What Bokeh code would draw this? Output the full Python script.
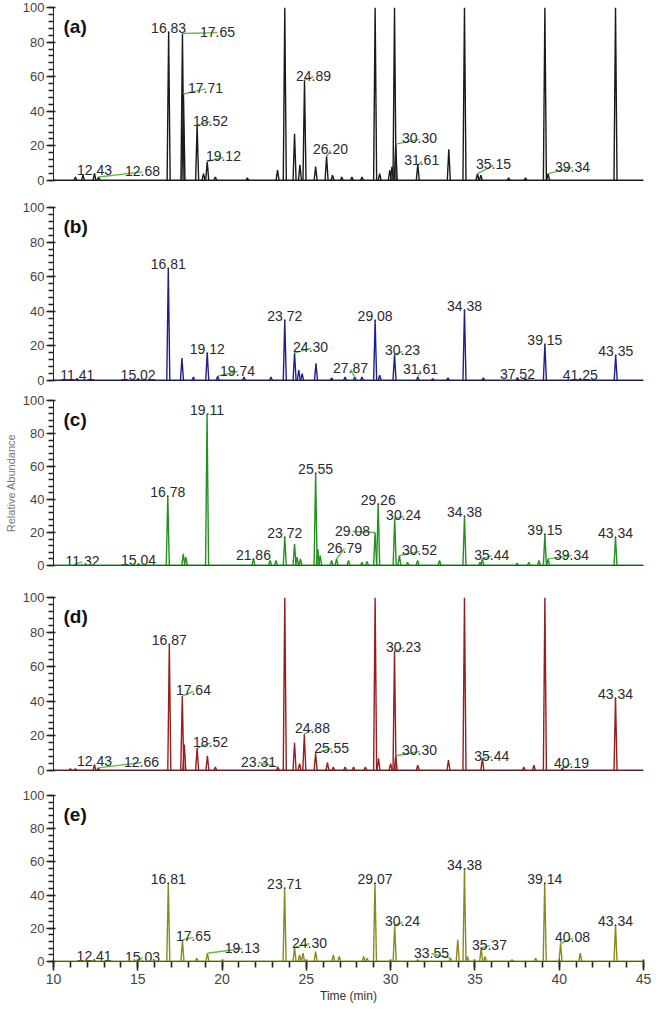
from bokeh.plotting import figure
from bokeh.layouts import column
from bokeh.models import Span, Label, FixedTicker, ColumnDataSource
from bokeh.core.properties import value
from bokeh.embed import file_html
from bokeh.resources import INLINE

# ---- peak tables: retention time (min) and relative abundance (%) ----
times_a = [11.30, 11.75, 12.43, 12.68, 16.83, 17.65, 17.71, 18.52, 18.90, 19.12, 19.60, 21.50,
           23.29, 23.72, 24.30, 24.62, 24.89, 25.55, 26.20, 26.55, 27.10, 27.70, 28.30, 29.08,
           29.35, 29.95, 30.08, 30.23, 30.30, 31.61, 33.45, 34.38, 35.15, 35.35, 37.00, 38.00,
           39.15, 39.34, 43.34]
abund_a = [2, 3, 4, 2, 86, 85, 50, 32, 4, 11, 2, 1.5,
           6, 100, 27, 9, 58, 8, 14, 3, 2, 2, 2, 100,
           4, 6, 8, 100, 21, 9, 18, 100, 4, 3, 1.5, 1.5,
           100, 4, 100]

times_b = [11.41, 15.02, 16.81, 17.62, 18.30, 19.12, 19.74, 21.30, 22.90, 23.72, 24.30, 24.55,
           24.75, 25.57, 26.50, 27.30, 27.87, 28.30, 29.08, 29.35, 30.23, 31.61, 32.50, 33.40,
           34.38, 35.50, 37.52, 38.00, 39.15, 41.25, 43.35]
abund_b = [1, 1, 65, 13, 2, 16, 2.5, 2, 2, 35, 16, 6,
           4, 10, 1.5, 2, 2, 2, 35, 3, 15, 2, 1, 1.5,
           41, 1.5, 1.5, 1, 21, 1, 14.5]

times_c = [11.32, 15.04, 16.78, 17.70, 17.85, 19.11, 21.86, 22.85, 23.20, 23.72, 24.30, 24.45,
           24.65, 25.55, 25.68, 25.82, 26.50, 26.79, 27.50, 28.30, 28.60, 29.08, 29.26, 30.24,
           30.52, 31.00, 31.60, 32.90, 34.38, 35.30, 35.44, 37.50, 38.20, 38.80, 39.15, 39.34,
           43.34]
abund_c = [1, 1, 42, 7, 5, 92, 4, 3, 3, 17, 13, 5,
           4, 56, 10, 6, 3, 4, 3, 2, 2.5, 20, 37.5, 28.5,
           6, 2, 3, 3, 30, 2, 4, 1.5, 2, 3, 19, 4,
           17]

times_d = [11.00, 11.30, 12.43, 12.66, 16.87, 17.64, 17.76, 18.52, 19.13, 19.60, 23.31, 23.72,
           24.30, 24.60, 24.88, 25.55, 26.25, 26.60, 27.30, 27.80, 28.50, 29.08, 29.28, 30.00,
           30.23, 30.30, 31.61, 33.43, 34.38, 35.44, 37.90, 38.50, 39.15, 40.19, 43.34]
abund_d = [1, 1, 3, 1.5, 73, 43, 15, 13, 8.5, 2, 2, 100,
           16, 4, 21, 10, 4.5, 2, 2, 2, 2, 100, 7, 4,
           69, 8.5, 3, 6, 100, 7, 2, 3, 100, 1.5, 42]

times_e = [12.41, 15.03, 16.81, 17.65, 18.50, 19.13, 23.71, 24.30, 24.60, 24.80, 25.55, 26.60,
           26.95, 28.40, 28.60, 29.07, 30.24, 31.60, 33.55, 33.98, 34.38, 34.55, 35.37, 35.60,
           37.20, 38.60, 39.14, 40.08, 41.25, 43.34]
abund_e = [1, 0.5, 47.5, 13, 2, 5, 44, 8.5, 4, 5, 6, 4,
           3, 3, 2, 47.5, 22, 1, 2, 13, 56, 3, 8, 3,
           1, 2, 47.5, 11, 5, 22]

# ---- annotated peaks ----
# labels printed straight above the apex
top_a = [12.43, 16.83]
top_b = [11.41, 15.02, 16.81, 19.12, 23.72, 29.08, 34.38, 37.52, 39.15, 41.25, 43.35]
top_c = [15.04, 16.78, 19.11, 21.86, 23.72, 25.55, 29.26, 34.38, 39.15, 43.34]
top_d = [12.43, 16.87, 43.34]
top_e = [12.41, 16.81, 23.71, 29.07, 34.38, 39.14, 43.34]

# labels moved aside with a leader: peak time -> where the label sits (time, abundance)
side_a = {12.68: (15.28, 5.0), 17.65: (19.73, 85.5), 17.71: (19.02, 53.0), 18.52: (19.31, 34.0),
          19.12: (20.08, 13.4), 24.89: (25.42, 60.0), 26.20: (26.43, 17.4), 30.30: (31.71, 23.8),
          31.61: (31.84, 11.0), 35.15: (36.10, 8.7), 39.34: (40.79, 7.5)}
side_b = {19.74: (20.92, 5.2), 24.30: (25.25, 18.5), 27.87: (27.62, 6.4), 30.23: (30.70, 16.8),
          31.61: (31.77, 5.8)}
side_c = {11.32: (11.72, 2.2), 26.79: (27.26, 10.3), 29.08: (27.74, 20.6), 30.24: (30.77, 29.7),
          30.52: (31.71, 8.5), 35.44: (36.00, 6.0), 39.34: (40.73, 6.0)}
side_d = {12.66: (15.22, 4.6), 17.64: (18.30, 45.7), 18.52: (19.31, 16.0), 23.31: (22.16, 4.6),
          24.88: (25.36, 23.7), 25.55: (26.50, 12.7), 30.23: (30.76, 71.0), 30.30: (31.71, 11.0),
          35.44: (36.00, 8.0), 40.19: (40.73, 4.0)}
side_e = {15.03: (15.28, 2.4), 17.65: (18.30, 14.5), 19.13: (21.20, 7.8), 24.30: (25.19, 10.8),
          30.24: (30.70, 23.5), 33.55: (32.42, 4.8), 35.37: (35.86, 9.6), 40.08: (40.79, 13.9)}

# axis ticks
y_ticks = [0, 20, 40, 60, 80, 100]
y_minor = list(range(0, 101, 4))
x_ticks = [10, 15, 20, 25, 30, 35, 40, 45]
x_minor = list(range(10, 46))

FONT = "Liberation Sans"
HALF_W = 0.09          # half width of a drawn peak at its base, in minutes
LEADER = "#5cbf4a"
INK = "#222222"


def panel(tag, times, abund, tops, sides, color, height, b_top, b_bottom,
          bottom_axis=False, ylabel=None):
    p = figure(width=661, height=height, x_range=(10, 45), y_range=(0, 100),
               output_backend="svg", toolbar_location=None,
               min_border_left=53, min_border_right=18,
               min_border_top=b_top, min_border_bottom=b_bottom)
    p.xgrid.grid_line_color = None
    p.ygrid.grid_line_color = None
    p.outline_line_color = None

    # y axis: numbered every 20 %, small ticks every 4 %
    ya = p.yaxis[0]
    ya.ticker = FixedTicker(ticks=y_ticks, minor_ticks=y_minor)
    ya.axis_line_color = INK
    ya.major_tick_line_color = INK
    ya.minor_tick_line_color = INK
    ya.major_tick_line_width = 1.5
    ya.minor_tick_line_width = 1.5
    ya.major_tick_out = 7
    ya.minor_tick_out = 5
    ya.major_label_text_font = FONT
    ya.major_label_text_font_size = "13px"
    ya.major_label_standoff = 2
    if ylabel:
        ya.axis_label = ylabel
        ya.axis_label_text_font = FONT
        ya.axis_label_text_font_size = "11px"
        ya.axis_label_text_font_style = "normal"
        ya.axis_label_text_color = "#777777"
        ya.axis_label_standoff = 3

    # x axis: only the bottom panel carries ticks and numbers
    xa = p.xaxis[0]
    xa.axis_line_color = INK
    if bottom_axis:
        xa.ticker = FixedTicker(ticks=x_ticks, minor_ticks=x_minor)
        xa.major_tick_line_color = INK
        xa.minor_tick_line_color = INK
        xa.major_tick_line_width = 1.6
        xa.minor_tick_line_width = 1.6
        xa.major_tick_out = 9
        xa.minor_tick_out = 6
        xa.major_label_text_font = FONT
        xa.major_label_text_font_size = "14px"
        xa.major_label_standoff = 3
        xa.axis_label = "Time (min)"
        xa.axis_label_text_font = FONT
        xa.axis_label_text_font_size = "12px"
        xa.axis_label_text_font_style = "normal"
        xa.axis_label_text_color = "#333333"
        xa.axis_label_standoff = 2
    else:
        xa.ticker = FixedTicker(ticks=[])
        xa.major_tick_out = 0
        xa.minor_tick_out = 0
        xa.major_label_standoff = 0

    # baseline and peaks
    p.add_layout(Span(location=0, dimension="width", line_color=color, line_width=1.8))
    xs = [[t - HALF_W, t, t + HALF_W] for t in times]
    ys = [[0, h, 0] for h in abund]
    p.multi_line(xs=xs, ys=ys, line_color=color, line_width=1.4)

    peak_h = dict(zip(times, abund))

    # labels above the apex
    src_top = ColumnDataSource(dict(x=tops, y=[peak_h[t] for t in tops],
                                    txt=["%.2f" % t for t in tops]))
    p.text(x="x", y="y", text="txt", source=src_top, text_font=value(FONT),
           text_font_size="14px", text_color="#2a2a33", text_align="center",
           text_baseline="alphabetic", y_offset=-4)

    # labels set aside, each tied to its peak by a leader
    pk = list(sides.keys())
    lx = [sides[t][0] for t in pk]
    ly = [sides[t][1] for t in pk]
    p.segment(x0=pk, y0=[peak_h[t] for t in pk], x1=lx, y1=ly,
              line_color=LEADER, line_width=1.4)
    src_side = ColumnDataSource(dict(x=lx, y=ly, txt=["%.2f" % t for t in pk]))
    p.text(x="x", y="y", text="txt", source=src_side, text_font=value(FONT),
           text_font_size="14px", text_color="#2a2a33", text_align="center",
           text_baseline="alphabetic", y_offset=-1)

    p.add_layout(Label(x=10, y=100, x_offset=10, y_offset=-8, text=tag,
                       text_font=FONT, text_font_size="19px", text_font_style="bold",
                       text_color="#111111", text_baseline="top"))
    return p


pa = panel("(a)", times_a, abund_a, top_a, side_a, "#1a1a1a", 200, 7, 20)
pb = panel("(b)", times_b, abund_b, top_b, side_b, "#1f1f8c", 193, 7, 13)
pc = panel("(c)", times_c, abund_c, top_c, side_c, "#23901f", 197, 7, 25,
           ylabel="Relative Abundance")
pd = panel("(d)", times_d, abund_d, top_d, side_d, "#9a1c1c", 198, 7, 18)
pe = panel("(e)", times_e, abund_e, top_e, side_e, "#8a8a1c", 218, 7, 45, bottom_axis=True)

layout = column(pa, pb, pc, pd, pe, spacing=0)
open("out.html", "w").write(file_html(layout, INLINE))
